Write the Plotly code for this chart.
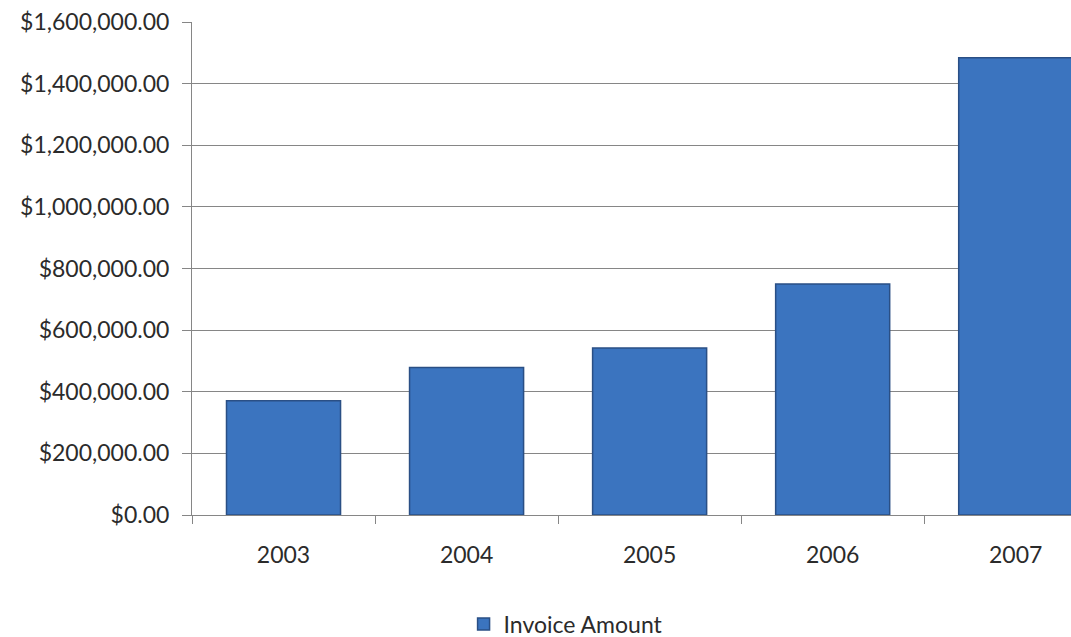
import plotly.graph_objects as go

years = ["2003", "2004", "2005", "2006", "2007"]
invoice_amount = [371000, 479000, 542000, 750000, 1484000]
series_name = "Invoice Amount"

fig = go.Figure()
fig.add_trace(go.Bar(
    x=years, y=invoice_amount, name=series_name,
    width=0.623,
    marker=dict(color="#3b74bf", line=dict(color="#2a4f85", width=1.5)),
    showlegend=True,
))

font = "Lato, 'Open Sans', sans-serif"
fig.update_layout(
    width=1071, height=637,
    margin=dict(l=192, r=0, t=22, b=122, pad=0, autoexpand=False),
    paper_bgcolor="white", plot_bgcolor="white",
    font=dict(family=font, size=23, color="#2b2b2b"),
    bargap=0.377,
    legend=dict(orientation="h", x=0.425, xanchor="center", y=-0.221, yanchor="middle",
                font=dict(size=23, color="#2b2b2b"), itemwidth=30),
    xaxis=dict(
        type="category", range=[-0.5, 4.302],
        showline=True, linecolor="#868686", linewidth=1,
        ticks="outside", tickson="boundaries", ticklen=8, tickcolor="#868686",
        showgrid=False, ticklabelstandoff=19,
        tickfont=dict(size=23, color="#2b2b2b"),
    ),
    yaxis=dict(
        range=[0, 1600000], dtick=200000, tickformat="$,.2f",
        showline=True, linecolor="#868686", linewidth=1,
        ticks="outside", ticklen=9, tickcolor="#868686",
        showgrid=True, gridcolor="#868686", gridwidth=1,
        zeroline=False, ticklabelstandoff=8,
        tickfont=dict(size=23, color="#2b2b2b"),
    ),
)

fig.write_html("out.html")
